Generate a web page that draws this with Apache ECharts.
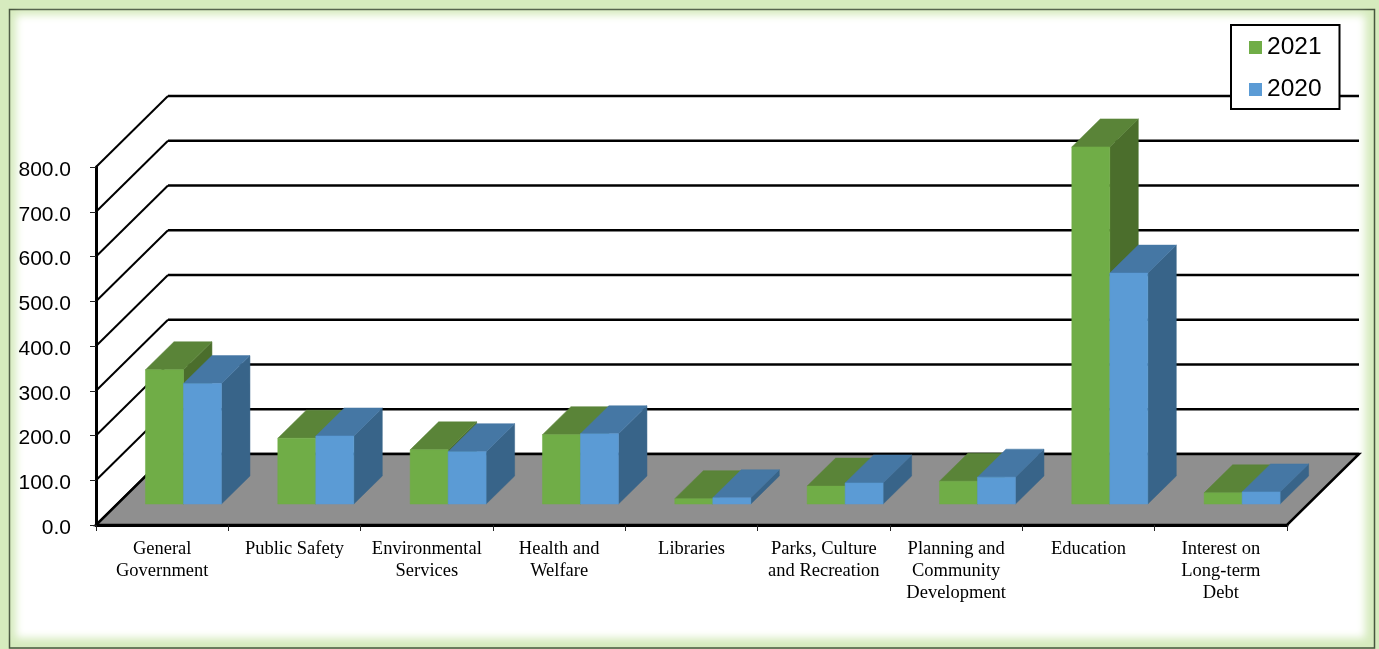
<!DOCTYPE html>
<html>
<head>
<meta charset="utf-8">
<style>
  html, body { margin: 0; padding: 0; background: #d6ebbe; }
  #chart { width: 1379px; height: 649px; }
</style>
<script src="https://cdn.jsdelivr.net/npm/echarts@6/dist/echarts.min.js"></script>
</head>
<body>
<div id="chart"></div>
<script>
// Expenditure by function, in two fiscal years
const categories = [
  'General\nGovernment', 'Public Safety', 'Environmental\nServices',
  'Health and\nWelfare', 'Libraries', 'Parks, Culture\nand Recreation',
  'Planning and\nCommunity\nDevelopment', 'Education',
  'Interest on\nLong-term\nDebt'
];
const values2021 = [300, 147, 121, 155, 12, 40, 51, 798, 25];
const values2020 = [269, 152, 117, 157, 14, 47, 60, 516, 27];
const yTicks = [0, 100, 200, 300, 400, 500, 600, 700, 800];

// Oblique projection of the pseudo-3D box, in pixels
const WALL_DX = 72, WALL_DY = 71;
const BAR_INSET_X = 21.3, BAR_INSET_Y = 21;
const BAR_DEPTH_X = 28.5, BAR_DEPTH_Y = 28;
const BAR_WIDTH = 38;

function poly(points, fill) {
  return { type: 'polygon', shape: { points }, style: { fill, stroke: fill, lineWidth: 0.5 } };
}

// One bar: right face, top face, front face
function barItem(colors, side) {
  return function (params, api) {
    const idx = api.value(0);
    const base = api.coord([idx, 0]);
    const top = api.coord([idx, api.value(1)]);
    const cx = base[0] + BAR_INSET_X;
    const x0 = side === 0 ? cx - BAR_WIDTH : cx;
    const x1 = x0 + BAR_WIDTH;
    const yb = base[1] - BAR_INSET_Y;
    const yt = top[1] - BAR_INSET_Y;
    const dx = BAR_DEPTH_X, dy = BAR_DEPTH_Y;
    return {
      type: 'group',
      children: [
        poly([[x1, yb], [x1 + dx, yb - dy], [x1 + dx, yt - dy], [x1, yt]], colors.side),
        poly([[x0, yt], [x1, yt], [x1 + dx, yt - dy], [x0 + dx, yt - dy]], colors.top),
        poly([[x0, yb], [x1, yb], [x1, yt], [x0, yt]], colors.front)
      ]
    };
  };
}

// Wall gridline: up the left wall, then along the back wall
function gridItem(params, api) {
  const band = api.size([1, 0])[0];
  const p = api.coord([0, api.value(1)]);
  const left = p[0] - band / 2;
  const right = left + band * categories.length;
  return {
    type: 'group',
    children: [
      { type: 'line', shape: { x1: left, y1: p[1], x2: left + WALL_DX, y2: p[1] - WALL_DY },
        style: { stroke: '#000', lineWidth: 2 } },
      { type: 'line', shape: { x1: left + WALL_DX, y1: p[1] - WALL_DY, x2: right + WALL_DX, y2: p[1] - WALL_DY },
        style: { stroke: '#000', lineWidth: 2.5 } }
    ]
  };
}

function floorItem(params, api) {
  const band = api.size([1, 0])[0];
  const p = api.coord([0, 0]);
  const left = p[0] - band / 2;
  const right = left + band * categories.length;
  return {
    type: 'polygon',
    shape: { points: [[left, p[1]], [right, p[1]], [right + WALL_DX, p[1] - WALL_DY], [left + WALL_DX, p[1] - WALL_DY]] },
    style: { fill: '#8f8f8f', stroke: '#000', lineWidth: 2.5 }
  };
}

const green = { front: '#70ad47', top: '#5a8438', side: '#4b6e2c' };
const blue = { front: '#5b9bd5', top: '#4577a4', side: '#386489' };

function pairs(values) { return values.map((v, i) => [i, v]); }

const chart = echarts.init(document.getElementById('chart'));
chart.setOption({
  animation: false,
  backgroundColor: '#d6ebbe',
  graphic: [
    { type: 'rect', z: -20, shape: { x: 9.5, y: 9.5, width: 1365, height: 638.5 },
      style: { fill: '#d6ebbe', stroke: '#47563e', lineWidth: 1.5 } },
    // Soft white panel: the rect sits off-canvas and only its shadow lands on the frame
    { type: 'rect', z: -10, shape: { x: 16 - 3000, y: 15, width: 1349, height: 623 },
      style: { fill: '#fff', shadowColor: '#fff', shadowBlur: 8, shadowOffsetX: 3000 } }
  ],
  grid: { left: 96, top: 167, width: 1191, height: 358, containLabel: false },
  legend: {
    data: ['2021', '2020'],
    orient: 'vertical',
    left: 1231, top: 25,
    padding: [10, 18, 7, 18],
    itemWidth: 13, itemHeight: 13, itemGap: 17,
    icon: 'rect',
    backgroundColor: '#fff',
    borderColor: '#000', borderWidth: 2,
    selectedMode: false,
    textStyle: { fontFamily: 'Liberation Sans', fontSize: 24.5, color: '#000' }
  },
  xAxis: {
    type: 'category',
    data: categories,
    axisLine: { lineStyle: { color: '#000', width: 3 } },
    axisTick: { show: true, length: 6, lineStyle: { color: '#222', width: 1 } },
    axisLabel: {
      interval: 0, margin: 13, color: '#000',
      fontFamily: 'Liberation Serif', fontSize: 18.5, lineHeight: 22
    },
    z: 5
  },
  yAxis: {
    type: 'value',
    min: 0, max: 800, interval: 100,
    axisLine: { show: true, lineStyle: { color: '#000', width: 3 } },
    axisTick: { show: true, length: 6, lineStyle: { color: '#222', width: 1 } },
    axisLabel: {
      margin: 25, color: '#000',
      fontFamily: 'Liberation Sans', fontSize: 21,
      verticalAlign: 'top', lineHeight: 6,
      formatter: v => v.toFixed(1)
    },
    splitLine: { show: false },
    z: 5
  },
  series: [
    { type: 'custom', name: 'wall', z: 1, silent: true, renderItem: gridItem,
      data: yTicks.map(v => [0, v]) },
    { type: 'custom', name: 'floor', z: 1.5, silent: true, renderItem: floorItem,
      data: [[0, 0]] },
    { type: 'custom', name: '2021', z: 2, silent: true, renderItem: barItem(green, 0),
      itemStyle: { color: green.front }, data: pairs(values2021) },
    { type: 'custom', name: '2020', z: 3, silent: true, renderItem: barItem(blue, 1),
      itemStyle: { color: blue.front }, data: pairs(values2020) }
  ]
});
</script>
</body>
</html>
